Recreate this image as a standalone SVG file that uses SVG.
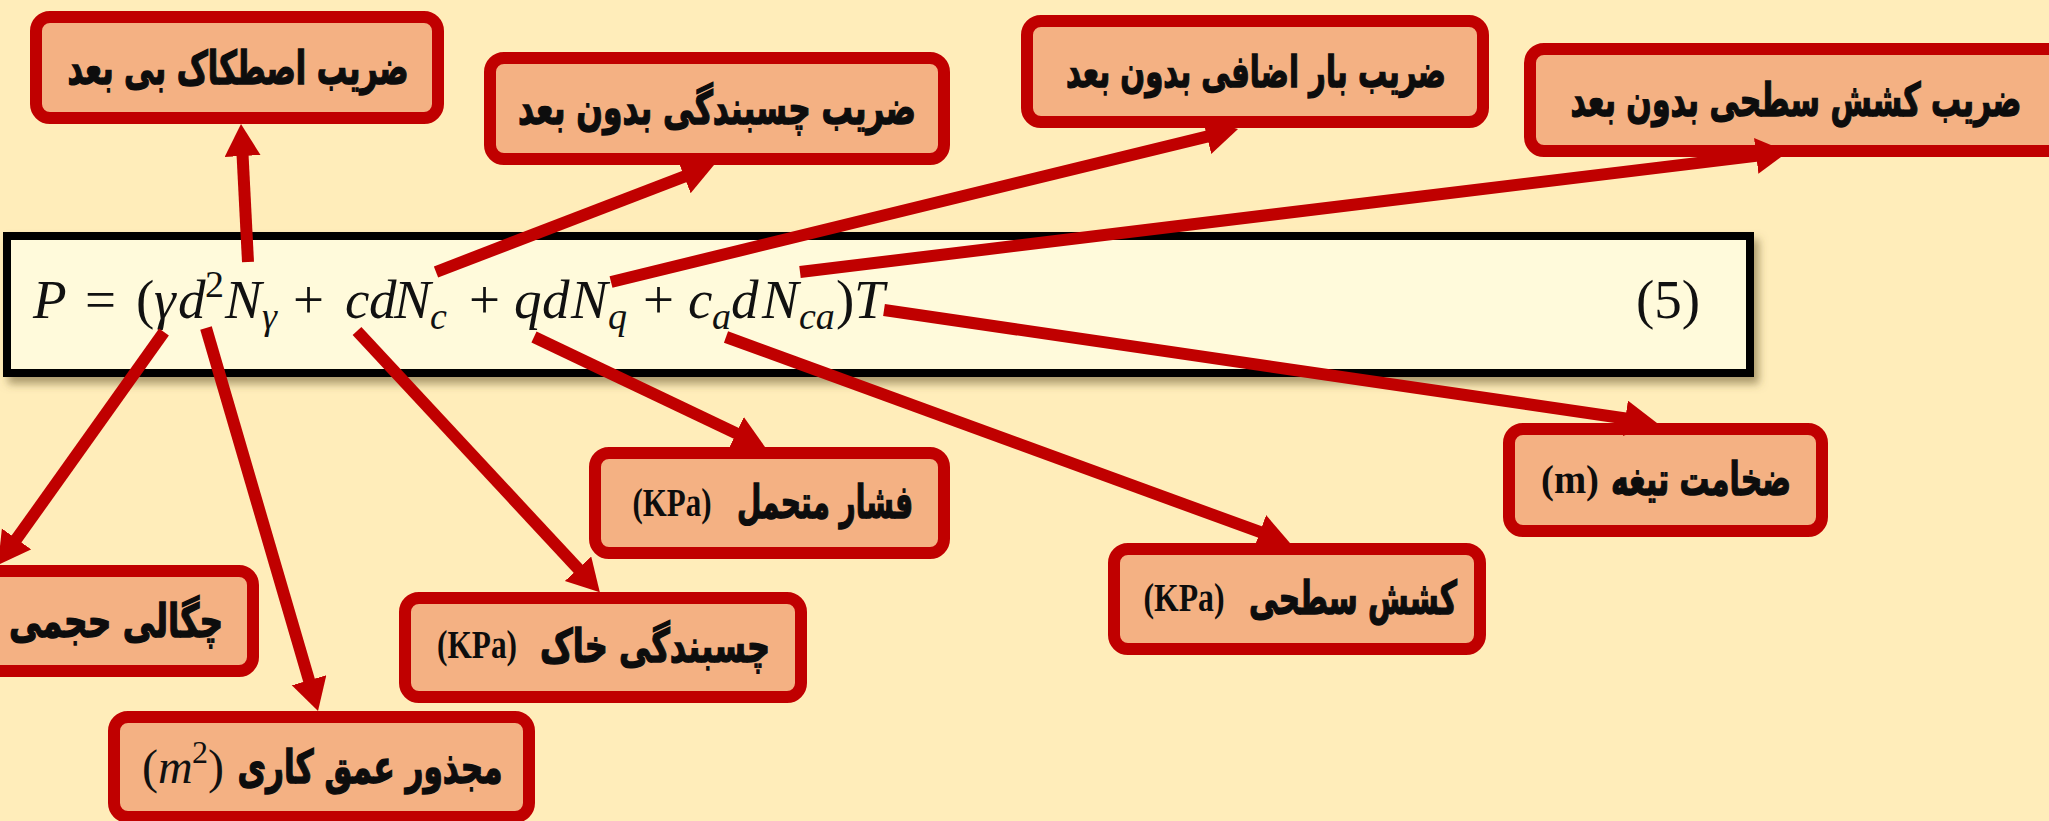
<svg xmlns="http://www.w3.org/2000/svg" width="2049" height="821" viewBox="0 0 2049 821">
  <style>
    .box { fill: #F4B183; stroke: #C00000; stroke-width: 12; }
    .fa { font-family: "DejaVu Sans", sans-serif; font-weight: bold; font-size: 46px; fill: #0D0D0D; stroke: #0D0D0D; stroke-width: 1.4; text-anchor: middle; }
    .unit { font-family: "Liberation Serif", serif; font-weight: bold; font-size: 40px; fill: #0D0D0D; text-anchor: middle; }
    .math { font-family: "Liberation Serif", serif; font-size: 55px; fill: #111111; }
    .it { font-style: italic; }
    .sub { font-size: 38px; }
    .arrow { stroke: #C00000; stroke-width: 12; fill: none; marker-end: url(#head); }
  </style>
  <defs>
    <marker id="head" markerUnits="userSpaceOnUse" markerWidth="34" markerHeight="38" refX="2" refY="18" orient="auto">
      <path d="M0,0 L32,18 L0,36 Z" fill="#C00000"/>
    </marker>
    <filter id="shadow" x="-5%" y="-20%" width="110%" height="150%">
      <feDropShadow dx="5" dy="7" stdDeviation="4" flood-color="#6B5A2E" flood-opacity="0.55"/>
    </filter>
  </defs>

  <!-- page background -->
  <rect x="0" y="0" width="2049" height="821" fill="#FFEDBA"/>

  <!-- equation -->
  <g id="equation">
    <rect x="7" y="236" width="1743" height="137" fill="#FFFADB" stroke="#000000" stroke-width="8" filter="url(#shadow)"/>
    <text class="math" y="318">
      <tspan class="it" x="33">P</tspan>
      <tspan x="85">=</tspan>
      <tspan x="136">(</tspan>
      <tspan class="it" x="154">γ</tspan>
      <tspan class="it" x="178">d</tspan>
      <tspan class="sub" x="205" y="297">2</tspan>
      <tspan class="it" x="225" y="318">N</tspan>
      <tspan class="it sub" x="262" y="329">γ</tspan>
      <tspan x="293" y="318">+</tspan>
      <tspan class="it" x="345">c</tspan>
      <tspan class="it" x="369">d</tspan>
      <tspan class="it" x="394">N</tspan>
      <tspan class="it sub" x="430" y="329">c</tspan>
      <tspan x="469" y="318">+</tspan>
      <tspan class="it" x="514">q</tspan>
      <tspan class="it" x="542">d</tspan>
      <tspan class="it" x="571">N</tspan>
      <tspan class="it sub" x="608" y="329">q</tspan>
      <tspan x="643" y="318">+</tspan>
      <tspan class="it" x="688">c</tspan>
      <tspan class="it sub" x="712" y="329">a</tspan>
      <tspan class="it" x="731" y="318">d</tspan>
      <tspan class="it" x="762">N</tspan>
      <tspan class="it sub" x="799" y="329">ca</tspan>
      <tspan x="836" y="318">)</tspan>
      <tspan class="it" x="854">T</tspan>
    </text>
    <text class="math" x="1636" y="318">(5)</text>
  </g>

  <!-- labels -->
  <g id="friction-factor">
    <rect class="box" x="36" y="17" width="402" height="101" rx="14"/>
    <text class="fa" x="238" y="84" textLength="341" lengthAdjust="spacingAndGlyphs">ضریب اصطکاک بی بعد</text>
  </g>
  <g id="cohesion-factor">
    <rect class="box" x="490" y="58" width="454" height="101" rx="14"/>
    <text class="fa" x="717" y="124" textLength="398" lengthAdjust="spacingAndGlyphs">ضریب چسبندگی بدون بعد</text>
  </g>
  <g id="surcharge-factor">
    <rect class="box" x="1027" y="21" width="456" height="101" rx="14"/>
    <text class="fa" x="1256" y="87" textLength="380" lengthAdjust="spacingAndGlyphs" style="font-size:44px">ضریب بار اضافی بدون بعد</text>
  </g>
  <g id="adhesion-factor">
    <rect class="box" x="1530" y="49" width="540" height="102" rx="14"/>
    <text class="fa" x="1796" y="116" textLength="451" lengthAdjust="spacingAndGlyphs">ضریب کشش سطحی بدون بعد</text>
  </g>
  <g id="unit-weight">
    <rect class="box" x="-24" y="571" width="277" height="100" rx="14"/>
    <text class="fa" x="116" y="637" textLength="214" lengthAdjust="spacingAndGlyphs">چگالی حجمی</text>
  </g>
  <g id="depth-squared">
    <rect class="box" x="114" y="717" width="415" height="100" rx="14"/>
    <text class="fa" x="370" y="783" textLength="265" lengthAdjust="spacingAndGlyphs">مجذور عمق کاری</text>
    <text class="math" y="783" style="font-size:48px"><tspan x="142">(</tspan><tspan class="it" x="158">m</tspan><tspan style="font-size:32px" x="192" y="763">2</tspan><tspan x="208" y="783">)</tspan></text>
  </g>
  <g id="soil-cohesion">
    <rect class="box" x="405" y="598" width="396" height="99" rx="14"/>
    <text class="fa" x="655" y="662" textLength="230" lengthAdjust="spacingAndGlyphs">چسبندگی خاک</text>
    <text class="unit" x="477" y="658" textLength="80" lengthAdjust="spacingAndGlyphs">(KPa)</text>
  </g>
  <g id="bearing-pressure">
    <rect class="box" x="595" y="453" width="349" height="100" rx="14"/>
    <text class="fa" x="825" y="518" textLength="176" lengthAdjust="spacingAndGlyphs">فشار متحمل</text>
    <text class="unit" x="672" y="516" textLength="79" lengthAdjust="spacingAndGlyphs">(KPa)</text>
  </g>
  <g id="adhesion">
    <rect class="box" x="1114" y="549" width="366" height="100" rx="14"/>
    <text class="fa" x="1353" y="614" textLength="208" lengthAdjust="spacingAndGlyphs">کشش سطحی</text>
    <text class="unit" x="1184" y="611" textLength="81" lengthAdjust="spacingAndGlyphs">(KPa)</text>
  </g>
  <g id="blade-thickness">
    <rect class="box" x="1509" y="429" width="313" height="102" rx="14"/>
    <text class="fa" x="1701" y="495" textLength="180" lengthAdjust="spacingAndGlyphs">ضخامت تیغه</text>
    <text class="unit" x="1570" y="493" textLength="58" lengthAdjust="spacingAndGlyphs">(m)</text>
  </g>

  <!-- connectors: from each symbol to its label -->
  <g id="connectors">
    <line class="arrow" x1="248" y1="262" x2="242.5" y2="154"/>
    <line class="arrow" x1="436" y1="272" x2="686" y2="175.8"/>
    <line class="arrow" x1="611" y1="282" x2="1208.9" y2="136.1"/>
    <line class="arrow" x1="800" y1="272" x2="1758.2" y2="155.6"/>
    <line class="arrow" x1="164" y1="332" x2="15.4" y2="540.6"/>
    <line class="arrow" x1="206" y1="328" x2="309.6" y2="682.2"/>
    <line class="arrow" x1="357" y1="331" x2="579.4" y2="570.2"/>
    <line class="arrow" x1="534" y1="337" x2="737.9" y2="434.1"/>
    <line class="arrow" x1="726" y1="337" x2="1261.8" y2="532.7"/>
    <line class="arrow" x1="884" y1="310" x2="1627.3" y2="418.7"/>
  </g>
</svg>
